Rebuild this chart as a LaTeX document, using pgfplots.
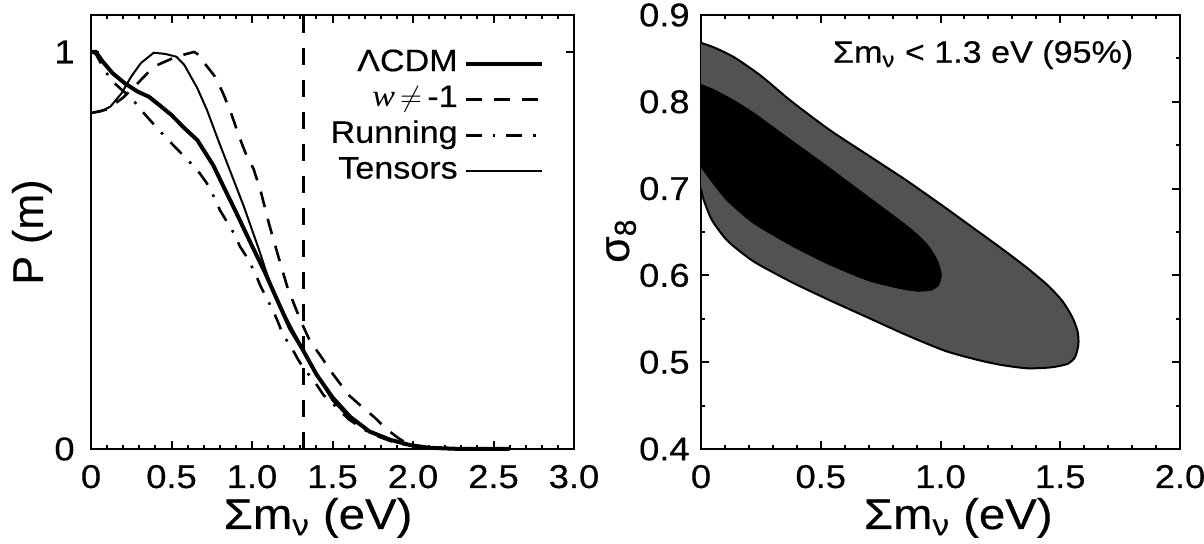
\documentclass[border=0pt]{standalone}
\usepackage{pgfplots}
\pgfplotsset{compat=1.18}
\usepackage{fontspec}
\setmainfont{Liberation Sans}[FakeStretch=1.1, FakeBold=0.4]
\newfontfamily\plainsans{Liberation Sans}[FakeBold=0.4]
\newfontfamily\serifit{Liberation Serif}[FakeStretch=1.1]

\begin{document}
\begin{tikzpicture}
\useasboundingbox (0,0) rectangle (602pt,272pt);
\pgfplotsset{
  common/.style={
    scale only axis,
    axis line style={line width=1.4pt},
    every tick/.style={black, line width=1pt},
    major tick length=3.8pt,
    minor tick length=2pt,
    tick align=inside,
    tick label style={font=\fontsize{16.5}{19}\selectfont},
    xticklabel style={anchor=base, yshift=-19.5pt, inner sep=0pt},
    yticklabel style={anchor=east, inner sep=0pt},
    xlabel style={anchor=base, font=\fontsize{21.5}{25}\selectfont},
    ylabel style={anchor=base, font=\plainsans\fontsize{21.5}{25}\selectfont},
  }
}
% ---------------- left panel ----------------
\begin{axis}[common,
  at={(45.5pt,47.5pt)}, anchor=south west, width=241.5pt, height=217pt,
  xmin=0, xmax=3, ymin=0, ymax=1.093,
  xtick={0,0.5,1,1.5,2,2.5,3}, xticklabels={0,0.5,1.0,1.5,2.0,2.5,3.0},
  minor x tick num=4,
  ytick={0,1}, yticklabels={0,1},
  yticklabel style={xshift=-8pt},
  xlabel={Σm\textsubscript{ν} (eV)},
  xlabel style={at={([yshift=-40pt]rel axis cs:0.47,0)}},
  ylabel={P (m)},
  ylabel style={at={([xshift=-24pt]rel axis cs:0,0.5)}},
  clip=false,
  legend style={draw=none, fill=none, at={(rel axis cs:0.938,0.93)}, anchor=north east,
    inner sep=0pt, font=\fontsize{15.5}{18}\selectfont, row sep=0pt, cells={anchor=east},
    nodes={text height=11pt, text depth=3.5pt, inner ysep=1.7pt, inner xsep=3pt}},
  legend plot pos=right,
  legend image code/.code={\draw[#1] (0pt,0pt) -- (38pt,0pt);},
]
\addplot[black, line width=2pt] coordinates {
(0,1.0) (0.03,1.0) (0.07,0.977) (0.135,0.946) (0.21,0.921) (0.29,0.900) (0.36,0.887)
(0.425,0.866) (0.50,0.841) (0.58,0.808) (0.66,0.778) (0.76,0.714) (0.83,0.655)
(0.90,0.597) (0.99,0.52) (1.08,0.445) (1.16,0.372) (1.236,0.304) (1.31,0.254)
(1.40,0.188) (1.50,0.13) (1.61,0.081) (1.73,0.044) (1.86,0.023) (1.98,0.010)
(2.10,0.003) (2.3,0.0) (2.6,0.0)};
\addlegendentry{ΛCDM}
\addplot[black, line width=1.3pt, dash pattern=on 8pt off 6pt] coordinates {
(0,0.846) (0.1,0.855) (0.2,0.885) (0.29,0.921) (0.39,0.963) (0.53,0.988) (0.64,1.0)
(0.68,0.99) (0.706,0.971) (0.77,0.938) (0.82,0.896) (0.87,0.846) (0.92,0.787)
(0.96,0.745) (1.01,0.705) (1.055,0.648) (1.105,0.568) (1.16,0.49) (1.22,0.407)
(1.30,0.325) (1.36,0.272) (1.42,0.238) (1.50,0.19) (1.60,0.136) (1.67,0.111)
(1.76,0.08) (1.83,0.052) (1.91,0.027) (1.98,0.01) (2.1,0.002) (2.3,0)};
\addlegendentry{{\serifit\itshape w}\,$\neq$\,-1}
\addplot[black, line width=1.3pt, dash pattern=on 8pt off 5.5pt on 1.3pt off 5.5pt] coordinates {
(0,1.0) (0.03,0.995) (0.07,0.965) (0.124,0.929) (0.19,0.905) (0.25,0.885) (0.31,0.854)
(0.385,0.82) (0.45,0.791) (0.49,0.774) (0.54,0.753) (0.61,0.724) (0.676,0.694)
(0.72,0.669) (0.77,0.63) (0.80,0.602) (0.84,0.575) (0.894,0.539) (0.925,0.51)
(0.967,0.484) (1.02,0.443) (1.05,0.413) (1.08,0.388) (1.134,0.346) (1.164,0.317)
(1.194,0.287) (1.247,0.254) (1.288,0.224) (1.33,0.199) (1.403,0.161) (1.444,0.136)
(1.5,0.115) (1.6,0.075) (1.73,0.04) (1.86,0.02) (1.98,0.008) (2.1,0.002) (2.3,0)};
\addlegendentry{Running}
\addplot[black, line width=1pt] coordinates {
(0,0.846) (0.06,0.85) (0.12,0.862) (0.19,0.896) (0.25,0.938) (0.31,0.972) (0.39,0.998)
(0.46,0.995) (0.53,0.988) (0.58,0.967) (0.66,0.909) (0.72,0.854) (0.79,0.778)
(0.87,0.694) (0.95,0.61) (1.04,0.506) (1.11,0.42) (1.2,0.34) (1.31,0.256) (1.40,0.19)
(1.50,0.122) (1.6,0.08) (1.73,0.045) (1.86,0.022) (1.98,0.009) (2.1,0.002) (2.3,0) (2.6,0)};
\addlegendentry{Tensors}
\addplot[black, line width=1.1pt, dash pattern=on 8.5pt off 7.5pt, forget plot] coordinates {(1.32,0) (1.32,1.093)};
\end{axis}
% ---------------- right panel ----------------
\begin{axis}[common,
  at={(350.5pt,47.5pt)}, anchor=south west, width=239.5pt, height=217pt,
  xmin=0, xmax=2, ymin=0.4, ymax=0.9,
  xtick={0,0.5,1,1.5,2}, xticklabels={0,0.5,1.0,1.5,2.0},
  minor x tick num=4,
  ytick={0.4,0.5,0.6,0.7,0.8,0.9}, yticklabels={0.4,0.5,0.6,0.7,0.8,0.9},
  minor y tick num=1,
  yticklabel style={xshift=-5.5pt},
  xlabel={Σm\textsubscript{ν} (eV)},
  xlabel style={at={([yshift=-40pt]rel axis cs:0.537,0)}},
  ylabel={σ\textsubscript{8}},
  ylabel style={at={([xshift=-36pt]rel axis cs:0,0.48)}},
]
\addplot[fill=black!68, draw=black, line width=1pt, smooth, tension=0.4] coordinates {
(0,0.868) (0.06,0.862) (0.14,0.851) (0.25,0.830) (0.38,0.800) (0.54,0.767)
(0.70,0.738) (0.86,0.709) (1.02,0.678) (1.15,0.652) (1.25,0.632) (1.36,0.609)
(1.45,0.588) (1.51,0.570) (1.55,0.552) (1.572,0.536) (1.576,0.521) (1.562,0.506)
(1.53,0.498) (1.46,0.494) (1.36,0.493) (1.25,0.497) (1.15,0.503) (1.02,0.513) (0.86,0.531)
(0.70,0.551) (0.54,0.571) (0.38,0.592) (0.22,0.616) (0.11,0.640) (0.045,0.664)
(0.01,0.688) (0,0.700)};
\addplot[fill=black, draw=black, line width=0.5pt, smooth, tension=0.4] coordinates {
(0,0.820) (0.06,0.813) (0.14,0.801) (0.22,0.787) (0.38,0.755) (0.54,0.723)
(0.70,0.690) (0.86,0.657) (0.94,0.637) (0.985,0.618) (1.003,0.601) (0.992,0.589)
(0.96,0.583) (0.90,0.582) (0.83,0.585) (0.70,0.594) (0.54,0.612) (0.38,0.634)
(0.22,0.660) (0.11,0.686) (0.045,0.708) (0,0.725)};
\node[anchor=base, font=\fontsize{15.5}{18}\selectfont] at (axis cs:1.178,0.845) {Σm\textsubscript{ν} < 1.3 eV (95\%)};
\end{axis}
\end{tikzpicture}
\end{document}
